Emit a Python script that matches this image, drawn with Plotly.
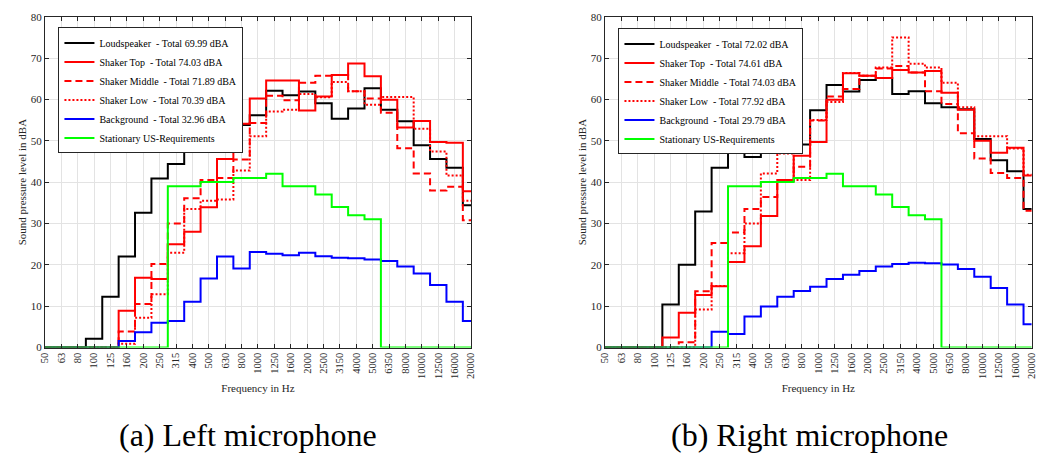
import plotly.graph_objects as go

bands = ["50", "63", "80", "100", "125", "160", "200", "250", "315", "400", "500", "630",
         "800", "1000", "1250", "1600", "2000", "2500", "3150", "4000", "5000", "6350",
         "8000", "10000", "12500", "16000", "20000"]

# Left microphone
left_loudspeaker = [0, 0, 0, 2.1, 12.3, 22.0, 32.6, 40.9, 44.4, 47.4, 51.1, 53.2, 53.8, 56.2,
                    62.1, 61.0, 61.9, 59.1, 55.3, 57.8, 62.7, 57.5, 54.7, 48.9, 45.6, 43.5, 34.4]
left_top = [0, 0, 0, 0, 0, 8.9, 16.9, 16.6, 25.0, 28.0, 33.9, 45.6, 54.1, 60.2,
            64.6, 64.6, 57.3, 60.7, 65.9, 68.7, 65.6, 59.9, 53.2, 54.8, 49.7, 49.5, 37.8]
left_middle = [0, 0, 0, 0, 0, 3.9, 10.5, 20.2, 30.0, 36.1, 40.5, 41.0, 45.5, 54.3,
               60.9, 59.8, 64.0, 65.7, 65.9, 62.0, 60.2, 56.8, 48.2, 42.1, 38.0, 38.9, 30.8]
left_low = [0, 0, 0, 0, 0, 0.9, 7.2, 12.9, 22.9, 33.5, 35.5, 35.8, 42.8, 51.1,
            57.1, 57.5, 61.3, 60.5, 64.2, 62.0, 58.7, 60.6, 60.6, 52.9, 47.4, 41.6, 35.5]
left_background = [0, 0, 0, 0, 0, 1.6, 3.7, 6.0, 6.4, 11.1, 16.7, 22.0, 19.1, 23.1,
                   22.7, 22.3, 22.9, 22.1, 21.7, 21.6, 21.3, 20.9, 19.6, 17.9, 15.1, 11.1, 6.4]

# Right microphone
right_loudspeaker = [0, 0, 0, 0, 10.4, 20.0, 32.9, 43.5, 47.4, 46.1, 51.3, 50.8, 49.1, 57.4,
                     63.5, 61.9, 64.7, 65.2, 61.3, 62.0, 59.1, 58.1, 57.6, 50.4, 45.3, 42.6, 33.5]
right_top = [0, 0, 0, 0, 2.4, 8.4, 12.7, 14.8, 20.7, 24.5, 31.8, 40.5, 46.4, 49.7,
             59.9, 66.3, 65.7, 65.2, 67.1, 66.5, 66.9, 61.6, 57.5, 50.0, 47.1, 48.3, 41.6]
right_middle = [0, 0, 0, 0, 0, 1.3, 13.6, 25.3, 27.8, 33.5, 36.4, 40.3, 43.7, 54.9,
                60.7, 62.5, 65.7, 67.5, 68.1, 66.5, 62.0, 58.9, 51.8, 45.7, 42.2, 41.0, 33.1]
right_low = [0, 0, 0, 0, 0, 0, 9.2, 14.9, 22.8, 30.0, 42.1, 46.9, 40.5, 55.0,
             59.4, 66.4, 65.7, 67.7, 75.0, 68.6, 67.7, 64.0, 58.1, 51.1, 51.1, 48.1, 41.8]
right_background = [0, 0, 0, 0, 0, 0, 0, 3.8, 3.3, 7.5, 9.9, 12.3, 13.7, 14.7,
                    16.6, 17.6, 18.5, 19.6, 20.2, 20.5, 20.4, 20.1, 19.0, 17.1, 14.4, 10.4, 5.6]

# Stationary requirement (same for both)
requirement = [0, 0, 0, 0, 0, 0, 0, 0, 39, 39, 40, 40, 41, 41, 42, 39, 39, 37, 34, 32, 31,
               0, 0, 0, 0, 0, 0]

left_names = ["Loudspeaker  - Total 69.99 dBA", "Shaker Top  - Total 74.03 dBA",
              "Shaker Middle  - Total 71.89 dBA", "Shaker Low  - Total 70.39 dBA",
              "Background  - Total 32.96 dBA", "Stationary US-Requirements"]
right_names = ["Loudspeaker  - Total 72.02 dBA", "Shaker Top  - Total 74.61 dBA",
               "Shaker Middle  - Total 74.03 dBA", "Shaker Low  - Total 77.92 dBA",
               "Background  - Total 29.79 dBA", "Stationary US-Requirements"]

styles = [("#000000", "solid"), ("#ff0000", "solid"), ("#ff0000", "7px,4px"),
          ("#ff0000", "2px,2px"), ("#0000ff", "solid"), ("#00ff00", "solid")]

FONT = "'Liberation Serif', 'Times New Roman', 'DejaVu Serif', serif"
x_idx = list(range(len(bands)))

fig = go.Figure()

def add_panel(series, names, xa, ya, legend):
    for vals, name, (col, dash) in zip(series, names, styles):
        fig.add_trace(go.Scatter(
            x=x_idx, y=vals, mode="lines", name=name,
            line=dict(color=col, width=2, dash=dash, shape="hvh"),
            xaxis=xa, yaxis=ya, legend=legend))

add_panel([left_loudspeaker, left_top, left_middle, left_low, left_background, requirement],
          left_names, "x", "y", "legend")
add_panel([right_loudspeaker, right_top, right_middle, right_low, right_background, requirement],
          right_names, "x2", "y2", "legend2")

W, H = 1041, 459

def xaxis(domain, anchor):
    return dict(domain=domain, anchor=anchor, range=[0, 26], tickmode="array",
                tickvals=x_idx, ticktext=bands, tickangle=-90,
                tickfont=dict(family=FONT, size=10.5, color="#262626"),
                ticks="inside", ticklen=4, tickcolor="#262626", mirror="allticks",
                showline=True, linecolor="#262626", linewidth=1,
                showgrid=True, gridcolor="#e3e3e3", gridwidth=1, zeroline=False,
                title=dict(text="Frequency in Hz", font=dict(family=FONT, size=11, color="#262626"),
                           standoff=6))

def yaxis(domain, anchor):
    return dict(domain=domain, anchor=anchor, range=[0, 80], dtick=10,
                tickfont=dict(family=FONT, size=11, color="#262626"),
                ticks="inside", ticklen=4, tickcolor="#262626", mirror="allticks",
                showline=True, linecolor="#262626", linewidth=1,
                showgrid=True, gridcolor="#e3e3e3", gridwidth=1, zeroline=False,
                title=dict(text="Sound pressure level in dBA",
                           font=dict(family=FONT, size=11, color="#262626"), standoff=1))

ydom = [1 - 350.7 / H, 1 - 11 / H]
legend_style = dict(bgcolor="white", bordercolor="#262626", borderwidth=1,
                    font=dict(family=FONT, size=10, color="#000000"),
                    xanchor="left", yanchor="top", itemwidth=30, tracegroupgap=0)

fig.update_layout(
    width=W, height=H, margin=dict(l=0, r=0, t=0, b=0),
    paper_bgcolor="white", plot_bgcolor="white",
    font=dict(family=FONT),
    xaxis=xaxis([39.3 / W, 470 / W], "y"),
    yaxis=yaxis(ydom, "x"),
    xaxis2=xaxis([605.3 / W, 1036.7 / W], "y2"),
    yaxis2=yaxis(ydom, "x2"),
    legend=dict(x=53 / W, y=1 - 22 / H, **legend_style),
    legend2=dict(x=619 / W, y=1 - 23 / H, **legend_style),
    showlegend=True,
    annotations=[
        dict(text="(a) Left microphone", x=245 / W, y=1 - 441 / H, xref="paper", yref="paper",
             showarrow=False, xanchor="center", yanchor="middle",
             font=dict(family=FONT, size=32, color="#000000")),
        dict(text="(b) Right microphone", x=812 / W, y=1 - 441 / H, xref="paper", yref="paper",
             showarrow=False, xanchor="center", yanchor="middle",
             font=dict(family=FONT, size=32, color="#000000")),
    ],
)

fig.write_html("out.html")
